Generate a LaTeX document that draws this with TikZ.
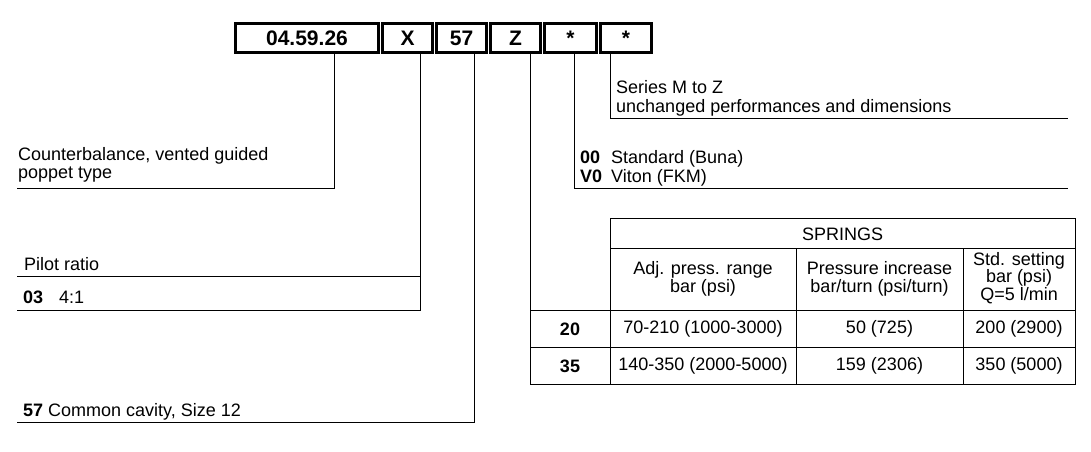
\documentclass[tikz,border=0pt]{standalone}
\usepackage{fontspec}
\setmainfont{Liberation Sans}
\usetikzlibrary{positioning}
\tikzset{
	codebox/.style={draw, line width=3pt, minimum height=29pt, inner sep=0pt, font=\fontsize{21}{23}\selectfont\bfseries},
	lbl/.style={anchor=base west, inner sep=0pt, font=\fontsize{18}{19}\selectfont},
	cell/.style={align=center, inner sep=0pt, font=\fontsize{18}{17.5}\selectfont},
	lead/.style={line width=1pt}
}
\begin{document}
\begin{tikzpicture}[x=1pt, y=-1pt]
			%%%%% START %%%%%
			\useasboundingbox (0,0) rectangle (1091,451);
			
			% code boxes
			\node[codebox, minimum width=143pt] (b1) at (307,38) {04.59.26};
			\node[codebox, minimum width=50pt] (b2) at (407.5,38) {X};
			\node[codebox, minimum width=50pt] (b3) at (461.5,38) {57};
			\node[codebox, minimum width=50pt] (b4) at (515.5,38) {Z};
			\node[codebox, minimum width=52pt] (b5) at (570.5,38) {*};
			\node[codebox, minimum width=51pt] (b6) at (626,38) {*};
			
			% leader corners
			\coordinate (k1) at (334,188); \coordinate (e1) at (17,188);
			\coordinate (k2) at (420,310); \coordinate (e2) at (17,310);
			\coordinate (m2) at (420,276); \coordinate (f2) at (17,276);
			\coordinate (k3) at (474,422); \coordinate (e3) at (17,422);
			\coordinate (k4) at (530,384);
			\coordinate (k5) at (574,188); \coordinate (e5) at (1068,188);
			\coordinate (k6) at (610,118); \coordinate (e6) at (1068,118);
			
			\draw[lead] (b1.south -| k1) -- (k1) -- (e1);
			\draw[lead] (b2.south -| k2) -- (k2) -- (e2);
			\draw[lead] (m2) -- (f2);
			\draw[lead] (b3.south -| k3) -- (k3) -- (e3);
			\draw[lead] (b4.south -| k4) -- (k4);
			\draw[lead] (b5.south -| k5) -- (k5) -- (e5);
			\draw[lead] (b6.south -| k6) -- (k6) -- (e6);
			
			% springs table
			\draw[lead] (k4) -- (1075,384) -- (1075,218) -- (610,218) -- (610,384);
			\draw[lead] (610,248) -- (1075,248);
			\draw[lead] (530,310) -- (1075,310);
			\draw[lead] (530,347) -- (1075,347);
			\draw[lead] (796,248) -- (796,384);
			\draw[lead] (963,248) -- (963,384);
			
			% texts left
			\node[lbl] (cb1) at (18,160) {Counterbalance, vented guided};
			\node[lbl] (cb2) at (18,178) {poppet type};
			\node[lbl] (pr) at (24,270) {Pilot ratio};
			\node[lbl] (pr03) at (23,303) {\textbf{03}};
			\node[lbl] (pr41) at (59,303) {4:1};
			\node[lbl] (cv57) at (23,416) {\textbf{57} Common cavity, Size 12};
			
			% texts right
			\node[lbl] (sr1) at (616,93) {Series M to Z};
			\node[lbl] (sr2) at (616,112) {unchanged performances and dimensions};
			\node[lbl] (sl00) at (580,163) {\textbf{00}};
			\node[lbl] (slA) at (611,163) {Standard (Buna)};
			\node[lbl] (slV0) at (580,182) {\textbf{V0}};
			\node[lbl] (slB) at (611,182) {Viton (FKM)};
			
			% table cells
			\node[cell] (spr) at (842.5,234) {SPRINGS};
			\node[cell] (hA) at (703,279) {Adj. press. range\\bar (psi)};
			\node[cell] (hB) at (879.5,279) {Pressure increase\\bar/turn (psi/turn)};
			\node[cell] (hC) at (1019,278) {Std. setting\\bar (psi)\\Q=5 l/min};
			\node[cell] (r20) at (570,329) {\textbf{20}};
			\node[cell] (r20a) at (703,329) {70-210 (1000-3000)};
			\node[cell] (r20b) at (879.5,329) {50 (725)};
			\node[cell] (r20c) at (1019,329) {200 (2900)};
			\node[cell] (r35) at (570,366) {\textbf{35}};
			\node[cell] (r35a) at (703,366) {140-350 (2000-5000)};
			\node[cell] (r35b) at (879.5,366) {159 (2306)};
			\node[cell] (r35c) at (1019,366) {350 (5000)};
			
			%%%%% END %%%%%
\end{tikzpicture}
\end{document}
